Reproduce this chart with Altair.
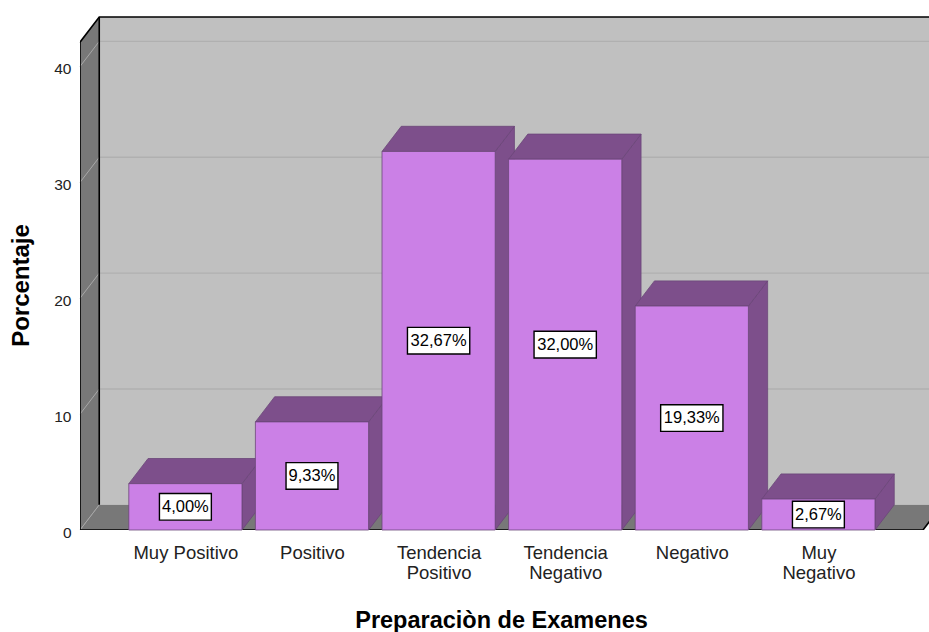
import json
import altair as alt
import pandas as pd

# Survey results: share of answers per category, in percent
categories = ["Muy Positivo", "Positivo", "Tendencia Positivo", "Tendencia Negativo", "Negativo", "Muy Negativo"]
axis_labels = ["Muy Positivo", "Positivo", ["Tendencia", "Positivo"], ["Tendencia", "Negativo"], "Negativo", ["Muy", "Negativo"]]
percentages = [4.00, 9.33, 32.67, 32.00, 19.33, 2.67]
value_labels = ["4,00%", "9,33%", "32,67%", "32,00%", "19,33%", "2,67%"]
y_ticks = [0, 10, 20, 30, 40]

# Pseudo-3D box proportions, in data units of the two axes
BAR_HALF = 0.447
DEPTH_X = 0.152
DEPTH_Y = 2.17
WALL_LEFT = -0.8325
WALL_RIGHT = 5.826
WALL_TOP = 42.1
X_DOMAIN = [WALL_LEFT, 5.8736]
Y_DOMAIN = [0, 45.74]

# Half sizes of the value label boxes, in data units
BOX_HALF_H = 1.15
BOX_CHAR_W = 0.041

FRONT = "#cb80e6"
SHADE = "#7d4f8b"
EDGE = "#6b4679"
WALL = "#787878"
BACK = "#c0c0c0"

x_scale = alt.Scale(domain=X_DOMAIN, nice=False, zero=False)
y_scale = alt.Scale(domain=Y_DOMAIN, nice=False, zero=False)

# Both axes are shared by every layer; their lines are hidden
label_expr = json.dumps(axis_labels) + "[datum.value]"
x_axis = alt.Axis(
    values=list(range(len(categories))), labelExpr=label_expr, domain=False, ticks=False, grid=False,
    labelFont="Liberation Sans", labelFontSize=18.5, labelColor="#222222", labelPadding=13,
    labelLineHeight=20, labelOverlap=False, labelBaseline="top",
    title="Preparaciòn de Examenes", titleFont="Liberation Sans", titleFontSize=23.5, titleFontWeight="bold",
    titleColor="#000000", titleX=421, titleY=90, titleBaseline="middle", titleAlign="center",
)
y_axis = alt.Axis(
    values=y_ticks, domain=False, ticks=False, grid=False,
    labelFont="Liberation Sans", labelFontSize=15.5, labelColor="#222222", labelPadding=9, labelOffset=2,
    title="Porcentaje", titleFont="Liberation Sans", titleFontSize=24, titleFontWeight="bold",
    titleColor="#000000", titleX=-59, titleY=285, titleAngle=270, titleBaseline="middle", titleAlign="center",
)

# Long-form tables for every face of the boxes
bars = pd.DataFrame({
    "cat": categories,
    "i": range(len(categories)),
    "value": percentages,
    "label": value_labels,
})
bars["x0"] = bars["i"] - BAR_HALF
bars["x1"] = bars["i"] + BAR_HALF
bars["mid"] = bars["value"] / 2
bars["box_w"] = bars["label"].str.len() * BOX_CHAR_W
bars["box_x0"] = bars["i"] - bars["box_w"]
bars["box_x1"] = bars["i"] + bars["box_w"]
bars["box_y0"] = bars["mid"] - BOX_HALF_H
bars["box_y1"] = bars["mid"] + BOX_HALF_H

side_rows, top_rows = [], []
for r in bars.itertuples():
    side_rows += [
        {"cat": r.cat, "x": r.x1, "y": 0, "y2": r.value},
        {"cat": r.cat, "x": r.x1 + DEPTH_X, "y": DEPTH_Y, "y2": r.value + DEPTH_Y},
    ]
    top_rows += [
        {"cat": r.cat, "y": r.value, "x": r.x0, "x2": r.x1},
        {"cat": r.cat, "y": r.value + DEPTH_Y, "x": r.x0 + DEPTH_X, "x2": r.x1 + DEPTH_X},
    ]
sides = pd.DataFrame(side_rows)
tops = pd.DataFrame(top_rows)

X = alt.X("x:Q", scale=x_scale, axis=x_axis)
Y = alt.Y("y:Q", scale=y_scale, axis=y_axis)

# Back wall
back_wall = alt.Chart(pd.DataFrame({
    "x": [WALL_LEFT + DEPTH_X], "x2": [X_DOMAIN[1] + 1],
    "y": [DEPTH_Y], "y2": [WALL_TOP + DEPTH_Y],
})).mark_rect(color=BACK, clip=True).encode(X, x2="x2:Q", y=Y, y2="y2:Q")

# Left wall and floor
left_wall = alt.Chart(pd.DataFrame({
    "x": [WALL_LEFT, WALL_LEFT + DEPTH_X],
    "y": [0, DEPTH_Y],
    "y2": [WALL_TOP, WALL_TOP + DEPTH_Y],
})).mark_area(color=WALL, opacity=1).encode(X, y=Y, y2="y2:Q")

floor = alt.Chart(pd.DataFrame({
    "y": [0, DEPTH_Y],
    "x": [WALL_LEFT, WALL_LEFT + DEPTH_X],
    "x2": [WALL_RIGHT, WALL_RIGHT + DEPTH_X],
})).mark_area(color=WALL, orient="horizontal", opacity=1, clip=True).encode(X, x2="x2:Q", y=Y)

# Gridlines run across the left wall and along the back wall
grid_side_rows, grid_back_rows = [], []
for t in y_ticks:
    grid_side_rows += [{"t": t, "x": WALL_LEFT, "y": t}, {"t": t, "x": WALL_LEFT + DEPTH_X, "y": t + DEPTH_Y}]
    if t > 0:
        grid_back_rows += [{"t": t, "x": WALL_LEFT + DEPTH_X, "y": t + DEPTH_Y},
                           {"t": t, "x": X_DOMAIN[1], "y": t + DEPTH_Y}]
grid_side = alt.Chart(pd.DataFrame(grid_side_rows)).mark_line(color="#a8a8a8", strokeWidth=1).encode(X, Y, detail="t:N")
grid_back = alt.Chart(pd.DataFrame(grid_back_rows)).mark_line(color="#b0b0b0", strokeWidth=1.4).encode(X, Y, detail="t:N")

# Black outline of the box
frame_paths = [
    [(WALL_LEFT, 0), (WALL_LEFT, WALL_TOP), (WALL_LEFT + DEPTH_X, WALL_TOP + DEPTH_Y), (X_DOMAIN[1], WALL_TOP + DEPTH_Y)],
    [(WALL_LEFT + DEPTH_X, DEPTH_Y), (WALL_LEFT + DEPTH_X, WALL_TOP + DEPTH_Y)],
    [(WALL_LEFT, 0), (WALL_RIGHT, 0), (WALL_RIGHT + DEPTH_X, DEPTH_Y)],
]
frame_rows = [
    {"path": p, "step": s, "x": px, "y": py}
    for p, path in enumerate(frame_paths)
    for s, (px, py) in enumerate(path)
]
frame = alt.Chart(pd.DataFrame(frame_rows)).mark_line(color="#000000", strokeWidth=1.6, clip=True).encode(
    X, Y, detail="path:N", order="step:Q"
)

# Bar faces: sides first, then tops, with the fronts last
bar_sides = alt.Chart(sides).mark_area(color=SHADE, opacity=1, stroke=EDGE, strokeWidth=0.8).encode(
    X, y=Y, y2="y2:Q", detail="cat:N"
)
bar_tops = alt.Chart(tops).mark_area(color=SHADE, opacity=1, orient="horizontal", stroke=EDGE, strokeWidth=0.8).encode(
    X, x2="x2:Q", y=Y, detail="cat:N"
)
bar_fronts = alt.Chart(bars).mark_rect(color=FRONT, stroke=EDGE, strokeWidth=0.8).encode(
    alt.X("x0:Q", scale=x_scale, axis=x_axis), x2="x1:Q",
    y=alt.Y("value:Q", scale=y_scale, axis=y_axis), y2=alt.datum(0),
)

# Boxed value labels in the middle of each bar
label_boxes = alt.Chart(bars).mark_rect(color="#ffffff", stroke="#000000", strokeWidth=1.4).encode(
    alt.X("box_x0:Q", scale=x_scale, axis=x_axis), x2="box_x1:Q",
    y=alt.Y("box_y0:Q", scale=y_scale, axis=y_axis), y2="box_y1:Q",
)
label_texts = alt.Chart(bars).mark_text(
    font="Liberation Sans", fontSize=16.5, color="#000000", align="center", baseline="middle"
).encode(
    alt.X("i:Q", scale=x_scale, axis=x_axis),
    alt.Y("mid:Q", scale=y_scale, axis=y_axis),
    text="label:N",
)

chart = alt.layer(
    back_wall, left_wall, floor, grid_side, grid_back, frame,
    bar_sides, bar_tops, bar_fronts, label_boxes, label_texts,
).properties(
    width=849, height=530,
    padding={"left": 80, "top": 0, "right": 0, "bottom": 102},
    autosize=alt.AutoSizeParams(type="none"),
    background="#ffffff",
).configure_view(stroke=None)

chart.save("out.html", embed_options={"renderer": "svg", "actions": False})
